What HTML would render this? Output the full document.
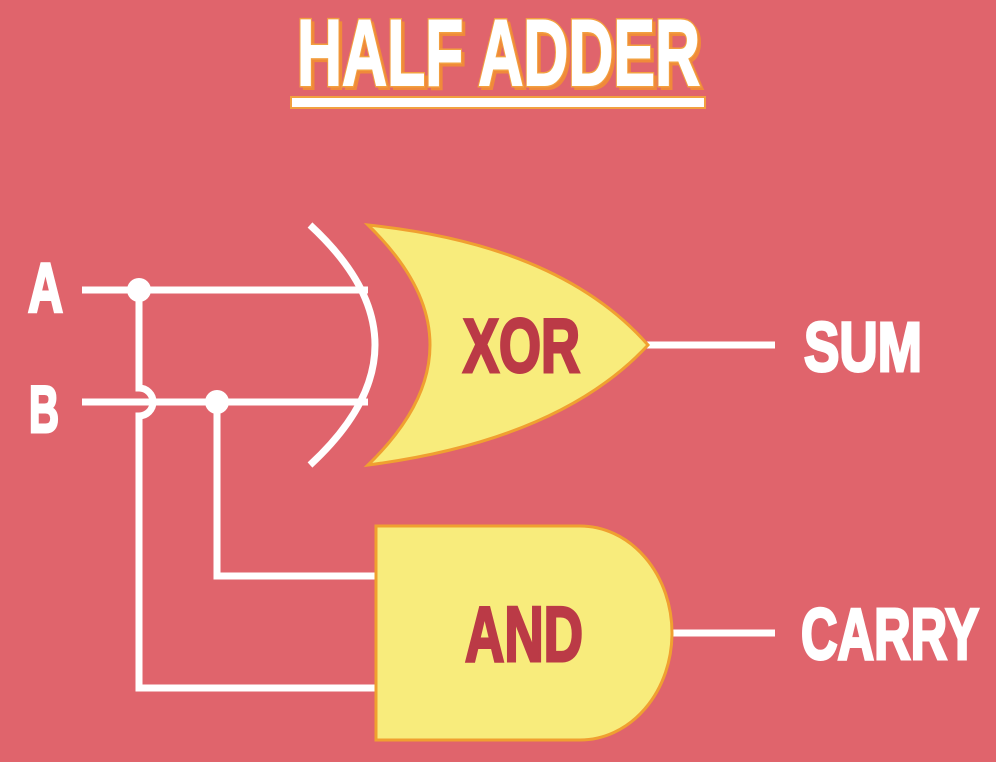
<!DOCTYPE html>
<html><head><meta charset="utf-8"><style>
html,body{margin:0;padding:0;width:996px;height:762px;overflow:hidden;background:#e0646c;}
svg{display:block}
text{font-family:"Liberation Sans Narrow","Liberation Sans",sans-serif;font-weight:bold;}
</style></head><body>
<svg width="996" height="762" viewBox="0 0 996 762" xmlns="http://www.w3.org/2000/svg">
<rect width="996" height="762" fill="#e0646c"/>
<!-- title -->
<text x="297" y="85" font-size="94" textLength="403" lengthAdjust="spacingAndGlyphs" fill="#f08a3a" stroke="#f08a3a" stroke-width="4" transform="translate(3,3)">HALF ADDER</text>
<text x="297" y="85" font-size="94" textLength="403" lengthAdjust="spacingAndGlyphs" fill="#fff" stroke="#f2a040" stroke-width="5" paint-order="stroke">HALF ADDER</text>
<text x="297" y="85" font-size="94" textLength="403" lengthAdjust="spacingAndGlyphs" fill="#fff" stroke="#fff" stroke-width="2">HALF ADDER</text>
<rect x="291" y="97" width="414" height="11" fill="#fff" stroke="#f2a040" stroke-width="2"/>
<!-- wires -->
<g stroke="#fff" stroke-width="7" fill="none">
<line x1="82" y1="290" x2="368" y2="290"/>
<line x1="82" y1="402" x2="368" y2="402"/>
<path d="M139 290 V388 A14 14 0 0 1 139 416 V688 H375"/>
<path d="M217 402 V576 H375"/>
<path d="M310 225 Q440 345 310 465"/>
<line x1="645" y1="345" x2="775" y2="345"/>
<line x1="670" y1="633" x2="775" y2="633"/>
</g>
<circle cx="139" cy="290" r="12" fill="#fff"/>
<circle cx="217" cy="402" r="12" fill="#fff"/>
<!-- XOR gate -->
<path d="M368 225 Q492 345 368 465 Q560 440 648 345 Q560 245 368 225 Z" fill="#f8ec7c" stroke="#f0a030" stroke-width="3"/>
<!-- AND gate -->
<path d="M376 526 H580 A92 107 0 0 1 580 740 H376 Z" fill="#f8ec7c" stroke="#f0a030" stroke-width="3"/>
<!-- labels -->
<g stroke-width="3">
<text x="463" y="372" font-size="76" textLength="117" lengthAdjust="spacingAndGlyphs" fill="#bb3a46" stroke="#bb3a46">XOR</text>
<text x="465" y="661" font-size="78" textLength="118" lengthAdjust="spacingAndGlyphs" fill="#bb3a46" stroke="#bb3a46">AND</text>
<g fill="#fff" stroke="#fff">
<text x="28" y="312" font-size="70" textLength="35" lengthAdjust="spacingAndGlyphs">A</text>
<text x="29" y="432" font-size="66" textLength="30" lengthAdjust="spacingAndGlyphs">B</text>
<text x="804" y="371" font-size="70" textLength="118" lengthAdjust="spacingAndGlyphs">SUM</text>
<text x="801" y="659" font-size="72" textLength="178" lengthAdjust="spacingAndGlyphs">CARRY</text>
</g>
</g>
</svg>
</body></html>
